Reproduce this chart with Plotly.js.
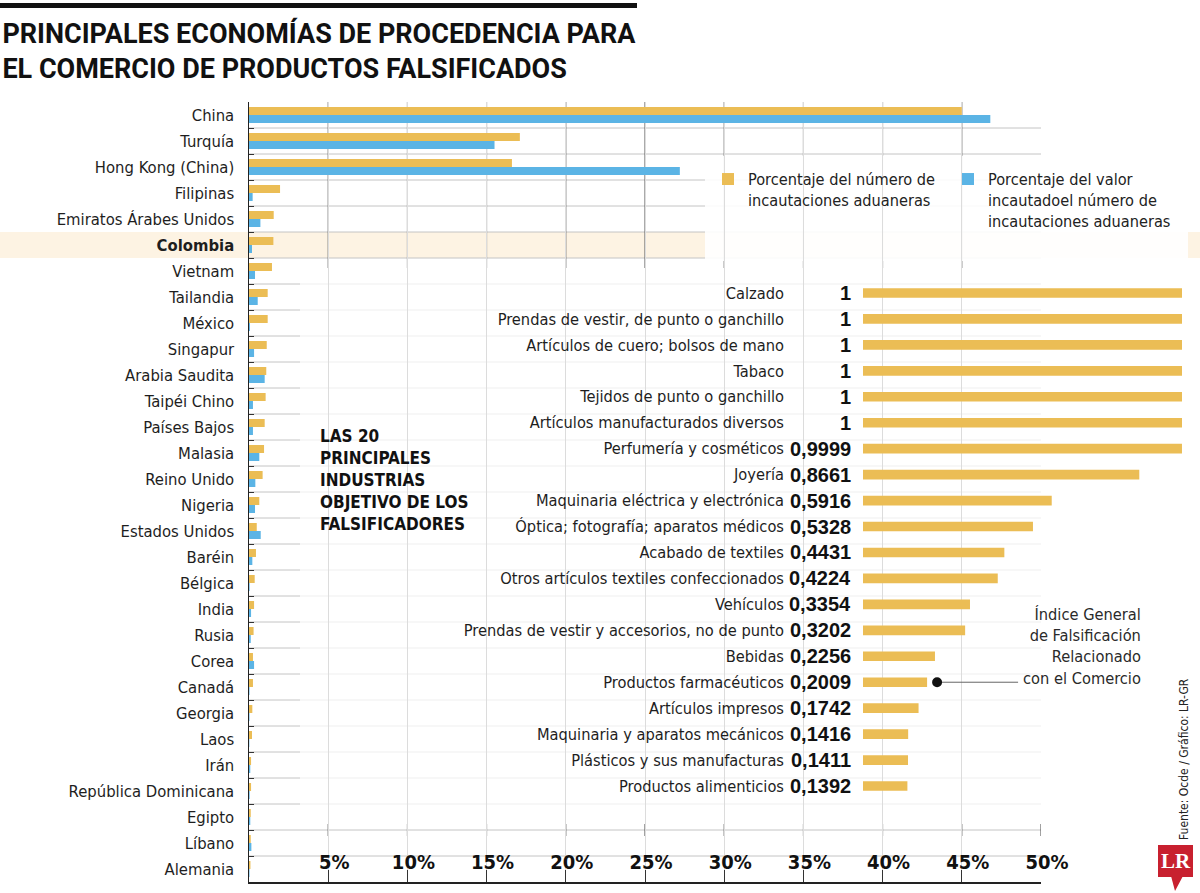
<!DOCTYPE html>
<html>
<head>
<meta charset="utf-8">
<script src="https://cdn.plot.ly/plotly-3.0.1.min.js"></script>
<style>
  html, body { margin: 0; padding: 0; background: #ffffff; }
  #chart { width: 1200px; height: 893px; }
</style>
</head>
<body>
<div id="chart"></div>
<script>
// ---------------- DATA ----------------
const countries = ['China','Turquía','Hong Kong (China)','Filipinas','Emiratos Árabes Unidos','Colombia','Vietnam','Tailandia','México','Singapur','Arabia Saudita','Taipéi Chino','Países Bajos','Malasia','Reino Unido','Nigeria','Estados Unidos','Baréin','Bélgica','India','Rusia','Corea','Canadá','Georgia','Laos','Irán','República Dominicana','Egipto','Líbano','Alemania'];
const pctSeizures = [45.0,17.1,16.6,1.96,1.56,1.54,1.45,1.18,1.18,1.12,1.09,1.05,0.99,0.95,0.86,0.65,0.49,0.44,0.36,0.32,0.29,0.25,0.25,0.21,0.19,0.13,0.13,0.11,0.11,0.09];
const pctValue    = [46.8,15.5,27.2,0.23,0.72,0.19,0.38,0.55,0.06,0.32,0.99,0.25,0.25,0.65,0.40,0.38,0.74,0.21,0.04,0.13,0.11,0.32,0.03,0.03,0.02,0.08,0.04,0.08,0.15,0.03];
const highlightCountry = 'Colombia';
const seriesNames = ['Porcentaje del número de<br>incautaciones aduaneras', 'Porcentaje del valor<br>incautadoel número de<br>incautaciones aduaneras'];

const xTickVals = [5,10,15,20,25,30,35,40,45,50];
const xTickText = ['5%','10%','15%','20%','25%','30%','35%','40%','45%','50%'];

const industries = ['Calzado','Prendas de vestir, de punto o ganchillo','Artículos de cuero; bolsos de mano','Tabaco','Tejidos de punto o ganchillo','Artículos manufacturados diversos','Perfumería y cosméticos','Joyería','Maquinaria eléctrica y electrónica','Óptica; fotografía; aparatos médicos','Acabado de textiles','Otros artículos textiles confeccionados','Vehículos','Prendas de vestir y accesorios, no de punto','Bebidas','Productos farmacéuticos','Artículos impresos','Maquinaria y aparatos mecánicos','Plásticos y sus manufacturas','Productos alimenticios'];
const industryIndex = [1,1,1,1,1,1,0.9999,0.8661,0.5916,0.5328,0.4431,0.4224,0.3354,0.3202,0.2256,0.2009,0.1742,0.1416,0.1411,0.1392];
const calloutIndustry = 'Productos farmacéuticos';

const titleText = 'PRINCIPALES ECONOMÍAS DE PROCEDENCIA PARA<br>EL COMERCIO DE PRODUCTOS FALSIFICADOS';
const insetTitle = 'LAS 20<br>PRINCIPALES<br>INDUSTRIAS<br>OBJETIVO DE LOS<br>FALSIFICADORES';
const calloutText = 'Índice General<br>de Falsificación<br>Relacionado<br>con el Comercio';
const sourceText = 'Fuente: Ocde / Gráfico: LR-GR';

// ---------------- STYLE ----------------
const YELLOW = '#EBBD55', BLUE = '#5BB4E5', BAND = '#FDF3E3', TXT = '#1e1e1e';
const FN = '"DejaVu Sans Condensed", "Liberation Sans Narrow", "Arial Narrow", sans-serif';
const FB = '"Liberation Sans", Arial, sans-serif';
const L = 249, R = 18, T = 102, B = 11, WID = 1200, HEI = 893;
const W = WID - L - R, H = HEI - T - B;
const px = x => (x - L) / W;
const py = y => (HEI - B - y) / H;

// ---------------- TRACES ----------------
const traces = [
  { type: 'bar', orientation: 'h', y: countries, x: pctSeizures, name: seriesNames[0],
    marker: { color: YELLOW }, xaxis: 'x', yaxis: 'y', hoverinfo: 'skip' },
  { type: 'bar', orientation: 'h', y: countries, x: pctValue, name: seriesNames[1],
    marker: { color: BLUE }, xaxis: 'x', yaxis: 'y', hoverinfo: 'skip' },
  { type: 'bar', orientation: 'h', y: industries, x: industryIndex, width: 0.37, showlegend: false,
    marker: { color: YELLOW }, xaxis: 'x2', yaxis: 'y3', hoverinfo: 'skip' },
  // empty helper traces so the overlay axes (row ticks, % tick labels) get drawn
  { type: 'scatter', x: [], y: [], xaxis: 'x', yaxis: 'y2', showlegend: false, hoverinfo: 'skip' },
  { type: 'scatter', x: [], y: [], xaxis: 'x3', yaxis: 'y', showlegend: false, hoverinfo: 'skip' }
];

const n = countries.length;
const boundaries = countries.slice(1).map((c, i) => i + 0.5);

// ---------------- SHAPES ----------------
const shapes = [];
const hi = countries.indexOf(highlightCountry);
shapes.push({ type: 'rect', layer: 'below', xref: 'paper', yref: 'y', x0: px(0), x1: px(1200), y0: hi - 0.5, y1: hi + 0.5,
  fillcolor: BAND, line: { width: 0 } });
// row separators
boundaries.forEach(b => {
  shapes.push({ type: 'line', layer: 'between', xref: 'paper', yref: 'y', x0: 0, x1: px(1041), y0: b, y1: b,
    line: { color: '#c4c4c4', width: 1 } });
});
// dark gridline segments in the upper block
xTickVals.filter(v => v < 50).forEach(v => {
  shapes.push({ type: 'line', layer: 'between', xref: 'x', yref: 'paper', x0: v, x1: v, y0: py(268), y1: 1,
    line: { color: '#555', width: 1 } });
});
xTickVals.forEach(v => {
  shapes.push({ type: 'line', layer: 'between', xref: 'x', yref: 'paper', x0: v, x1: v, y0: py(836), y1: py(824),
    line: { color: '#444', width: 1 } });
});
// white veils behind legend and inset
shapes.push({ type: 'rect', layer: 'between', xref: 'paper', yref: 'paper', x0: px(705), x1: px(1188), y0: py(261), y1: py(156),
  fillcolor: '#ffffff', opacity: 0.9, line: { width: 0 } });
shapes.push({ type: 'rect', layer: 'between', xref: 'paper', yref: 'paper', x0: px(300), x1: px(1200), y0: py(817), y1: py(268),
  fillcolor: '#ffffff', opacity: 0.72, line: { width: 0 } });
// callout
const ci = industries.indexOf(calloutIndustry);
const cv = industryIndex[ci];
shapes.push({ type: 'line', layer: 'above', xref: 'x2', yref: 'y3', xsizemode: 'pixel', ysizemode: 'pixel',
  xanchor: cv, yanchor: ci, x0: 10, x1: 91, y0: 0, y1: 0, line: { color: '#666', width: 1 } });
shapes.push({ type: 'circle', layer: 'above', xref: 'x2', yref: 'y3', xsizemode: 'pixel', ysizemode: 'pixel',
  xanchor: cv, yanchor: ci, x0: 5, x1: 15, y0: -5, y1: 5, fillcolor: '#111', line: { width: 0 } });
// top rule
shapes.push({ type: 'rect', layer: 'above', xref: 'paper', yref: 'paper', x0: px(0), x1: px(637), y0: py(8), y1: py(3),
  fillcolor: '#111', line: { width: 0 } });
// LR logo
shapes.push({ type: 'rect', layer: 'above', xref: 'paper', yref: 'paper', x0: px(1158), x1: px(1193), y0: py(877), y1: py(845),
  fillcolor: '#C8202F', line: { width: 0 } });
shapes.push({ type: 'path', layer: 'above', xref: 'paper', yref: 'paper',
  path: `M ${px(1171)} ${py(876)} L ${px(1183)} ${py(876)} L ${px(1175)} ${py(891)} Z`,
  fillcolor: '#C8202F', line: { width: 0 } });

// ---------------- ANNOTATIONS ----------------
const fmt = v => String(v).replace('.', ',');
const annotations = industries.map((ind, i) => ({
  xref: 'x2', yref: 'y3', x: 0, y: ind, text: '<b>' + fmt(industryIndex[i]) + '</b>', showarrow: false,
  xanchor: 'right', yanchor: 'middle', xshift: -10, font: { family: FB, size: 20, color: '#111' }
}));
annotations.push({ xref: 'paper', yref: 'paper', x: px(318), y: py(480), xanchor: 'left', yanchor: 'middle', align: 'left',
  text: '<b>' + insetTitle + '</b>', showarrow: false, font: { family: FN, size: 17, color: '#111' } });
annotations.push({ xref: 'paper', yref: 'paper', x: px(1143), y: py(646), xanchor: 'right', yanchor: 'middle', align: 'right',
  text: calloutText, showarrow: false, font: { family: FN, size: 16.3, color: '#2a2a2a' } });
annotations.push({ xref: 'paper', yref: 'paper', x: px(1184), y: py(759), xanchor: 'center', yanchor: 'middle',
  text: sourceText, textangle: -90, showarrow: false, font: { family: FN, size: 12, color: '#222' } });
annotations.push({ xref: 'paper', yref: 'paper', x: px(1175.5), y: py(861), xanchor: 'center', yanchor: 'middle',
  text: '<b>LR</b>', showarrow: false, font: { family: '"Liberation Serif", "DejaVu Serif", serif', size: 21, color: '#ffffff' } });

// ---------------- LAYOUT ----------------
const layout = {
  width: WID, height: HEI,
  margin: { l: L, r: R, t: T, b: B, pad: 0, autoexpand: false },
  paper_bgcolor: '#ffffff', plot_bgcolor: 'rgba(0,0,0,0)',
  title: { text: '<b>' + titleText + '</b>', xref: 'container', yref: 'container', x: 0.002, xanchor: 'left',
    y: 1 - 43 / HEI, yanchor: 'top', font: { family: 'Roboto, "Liberation Sans", sans-serif', size: 27, color: '#111' } },
  barmode: 'group', bargap: 0.385, bargroupgap: 0,
  hovermode: false,
  showlegend: true,
  legend: { orientation: 'h', x: px(708), y: py(162), xanchor: 'left', yanchor: 'top', valign: 'top',
    entrywidth: 195, entrywidthmode: 'pixels', bgcolor: 'rgba(0,0,0,0)',
    font: { family: FN, size: 16.2, color: '#222' }, traceorder: 'normal' },
  xaxis: { domain: [0, px(1041)], range: [0, 50], anchor: 'y', fixedrange: true,
    tickvals: xTickVals, showticklabels: false, ticks: 'inside', ticklen: 12, tickcolor: '#333', tickwidth: 1,
    showgrid: true, gridcolor: '#dcdcdc', gridwidth: 1, zeroline: false,
    showline: true, linecolor: '#222', linewidth: 1.5 },
  xaxis3: { overlaying: 'x', anchor: 'free', position: py(848), side: 'bottom', range: [0, 50], fixedrange: true,
    tickvals: xTickVals, ticktext: xTickText, ticks: '', ticklabelshift: 6, ticklabelstandoff: 0,
    tickfont: { family: FN, size: 20, color: '#111', weight: 'bold' },
    showgrid: false, zeroline: false, showline: false },
  yaxis: { type: 'category', domain: [0, 1], range: [n - 0.5, -0.5], anchor: 'x', fixedrange: true,
    tickvals: countries, ticktext: countries.map(c => c === highlightCountry ? '<b>' + c + '</b>' : c),
    ticks: '', ticklabelstandoff: 10, tickfont: { family: FN, size: 16.5, color: TXT },
    showgrid: false, zeroline: false, showline: true, linecolor: '#222', linewidth: 1.5 },
  yaxis2: { type: 'linear', overlaying: 'y', anchor: 'x', side: 'left', range: [n - 0.5, -0.5], fixedrange: true,
    tickvals: [-0.5].concat(boundaries), ticktext: [-0.5].concat(boundaries).map(() => ''), showticklabels: false,
    ticks: 'inside', ticklen: 5, tickcolor: '#333',
    showgrid: false, zeroline: false, showline: false },
  xaxis2: { domain: [px(863), 1], range: [0, 1], anchor: 'y3', fixedrange: true, visible: false },
  yaxis3: { type: 'category', domain: [py(799), py(280)], anchor: 'x2', range: [industries.length - 0.5, -0.5], fixedrange: true,
    ticks: '', ticklabelstandoff: 78, tickfont: { family: FN, size: 16.3, color: TXT },
    showgrid: false, zeroline: false, showline: false },
  shapes: shapes,
  annotations: annotations
};

Plotly.newPlot('chart', traces, layout, { displayModeBar: false, staticPlot: true });
</script>
</body>
</html>
